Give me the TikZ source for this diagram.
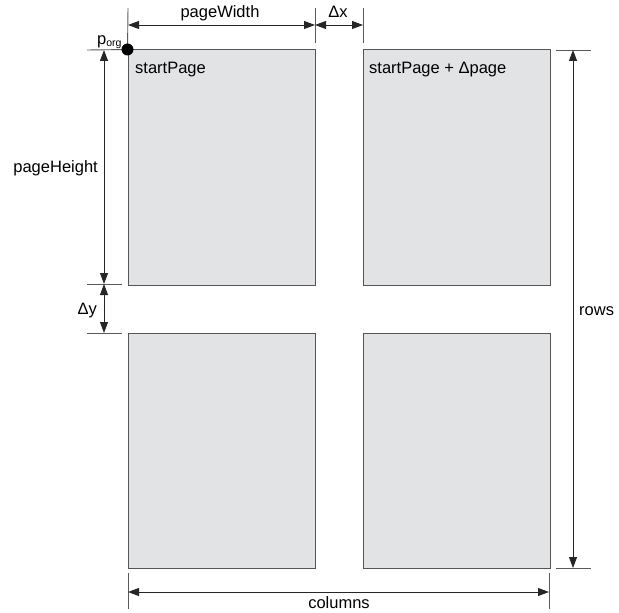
\documentclass[tikz,border=0pt]{standalone}
\usepackage{fontspec}
\setmainfont{Liberation Sans}
\usetikzlibrary{arrows.meta}
\definecolor{pagefill}{RGB}{226,227,229}
\definecolor{pageline}{RGB}{85,85,85}
\definecolor{extline}{RGB}{90,90,90}
\begin{document}
\begin{tikzpicture}[x=1bp,y=-1bp,
  pagebox/.style={draw=pageline,fill=pagefill,line width=1bp,inner sep=0,minimum width=187bp,minimum height=235bp},
  dimline/.style={draw=black!85,line width=0.9bp,{Triangle[length=11bp,width=8bp]}-{Triangle[length=11bp,width=8bp]}},
  extension/.style={draw=extline,line width=0.9bp},
  lbl/.style={inner sep=0,font=\fontsize{16.5bp}{18bp}\selectfont}]
\useasboundingbox (0,0) rectangle (619,613);
% pages
\node[pagebox] (p11) at (221.5,167.5) {};
\node[pagebox] (p12) at (456.5,167.5) {};
\node[pagebox] (p21) at (221.5,450.5) {};
\node[pagebox] (p22) at (456.5,450.5) {};
% extension line end points
\coordinate (ew1) at (128,8);
\coordinate (ew2) at (315,8);
\coordinate (ew2b) at (315,43);
\coordinate (ew3) at (363,8);
\coordinate (ew3b) at (363,43);
\coordinate (eh1) at (87,50);
\coordinate (ey1a) at (87,284);
\coordinate (ey1b) at (122,284);
\coordinate (ey2a) at (87,333);
\coordinate (ey2b) at (122,333);
\coordinate (er1a) at (556,50);
\coordinate (er1b) at (591,50);
\coordinate (er2a) at (556,568);
\coordinate (er2b) at (591,568);
\coordinate (ec1a) at (128,573);
\coordinate (ec1b) at (128,609);
\coordinate (ec2a) at (549,573);
\coordinate (ec2b) at (549,609);
\draw[extension] (ew1) -- (p11.north west);
\draw[extension] (ew2) -- (ew2b);
\draw[extension] (ew3) -- (ew3b);
\draw[extension] (eh1) -- (p11.north west);
\draw[extension] (ey1a) -- (ey1b);
\draw[extension] (ey2a) -- (ey2b);
\draw[extension] (er1a) -- (er1b);
\draw[extension] (er2a) -- (er2b);
\draw[extension] (ec1a) -- (ec1b);
\draw[extension] (ec2a) -- (ec2b);
% dimension arrows
\coordinate (dw1) at (128,25);
\coordinate (dw2) at (315,25);
\coordinate (dw3) at (363,25);
\coordinate (dh1) at (104,50);
\coordinate (dh2) at (104,284);
\coordinate (dh3) at (104,333);
\coordinate (dr1) at (573,50);
\coordinate (dr2) at (573,568);
\coordinate (dc1) at (128,592);
\coordinate (dc2) at (549,592);
\draw[dimline] (dw1) -- (dw2);
\draw[dimline] (dw2) -- (dw3);
\draw[dimline] (dh1) -- (dh2);
\draw[dimline] (dh2) -- (dh3);
\draw[dimline] (dr1) -- (dr2);
\draw[dimline] (dc1) -- (dc2);
% origin dot
\fill[black] (p11.north west) circle (6bp);
% labels
\node[lbl,anchor=base] (tw) at (220,18) {pageWidth};
\node[lbl,anchor=base] (tdx) at (338,18) {\symbol{"0394}x};
\node[lbl,anchor=base east] (th) at (98,173) {pageHeight};
\node[lbl,anchor=base east] (tdy) at (97,314) {\symbol{"0394}y};
\node[lbl,anchor=base west] (tr) at (579,315) {rows};
\node[lbl,anchor=base] (tc) at (339,608) {columns};
\node[lbl,anchor=base west] (tp) at (97,45) {p\raisebox{-1.5bp}{\fontsize{10.5bp}{10.5bp}\selectfont org}};
\node[lbl,anchor=base west] (ts1) at (135,74) {startPage};
\node[lbl,anchor=base west] (ts2) at (369,74) {startPage + \symbol{"0394}page};
\end{tikzpicture}
\end{document}
